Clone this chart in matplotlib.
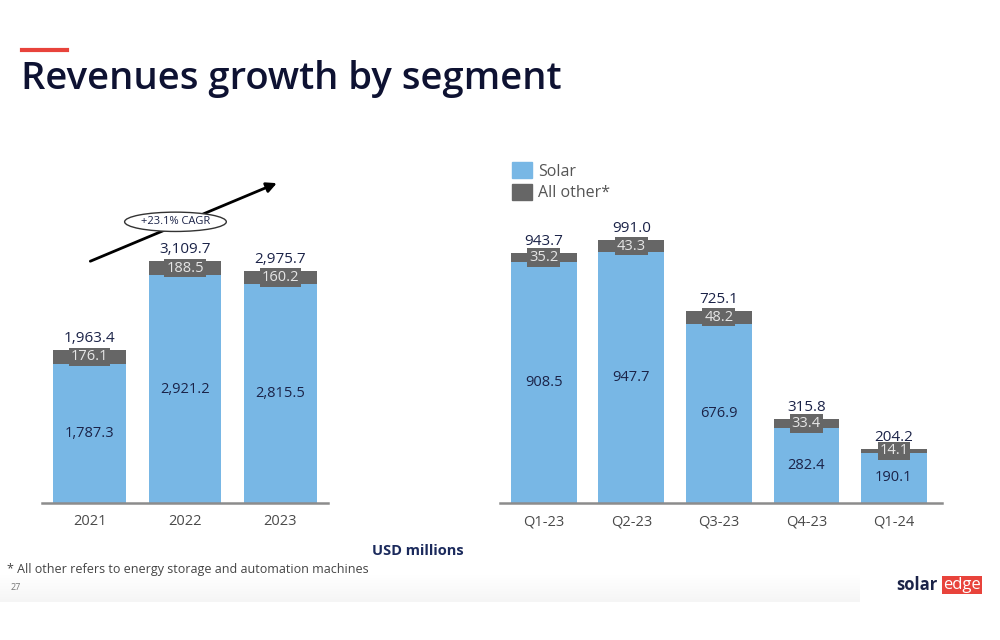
import matplotlib.pyplot as plt
import matplotlib.patches as mpatches
import numpy as np

# ---- data ----
years = ["2021", "2022", "2023"]
year_solar = [1787.3, 2921.2, 2815.5]
year_other = [176.1, 188.5, 160.2]
year_total = [1963.4, 3109.7, 2975.7]

quarters = ["Q1-23", "Q2-23", "Q3-23", "Q4-23", "Q1-24"]
q_solar = [908.5, 947.7, 676.9, 282.4, 190.1]
q_other = [35.2, 43.3, 48.2, 33.4, 14.1]
q_total = [943.7, 991.0, 725.1, 315.8, 204.2]

cagr_label = "+23.1% CAGR"

BLUE = "#78B7E5"
GRAY = "#666666"
NAVY = "#1B2348"
TICK = "#4A4A4A"

plt.rcParams['font.family'] = ['Open Sans', 'DejaVu Sans']

fig = plt.figure(figsize=(10, 6.4), dpi=100)
fig.patch.set_facecolor("white")


def fmt(v):
    return f"{v:,.1f}"


def draw_stack(ax, cats, solar, other, total, width):
    x = np.arange(len(cats))
    ax.bar(x, solar, width, color=BLUE, zorder=2)
    ax.bar(x, other, width, bottom=solar, color=GRAY, zorder=2)
    for i in x:
        ax.text(i, solar[i] / 2, fmt(solar[i]), ha="center", va="center",
                fontsize=10.5, color=NAVY, zorder=4)
        ax.text(i, solar[i] + other[i] / 2, fmt(other[i]), ha="center", va="center",
                fontsize=10.5, color="#E6E6E6", zorder=4,
                bbox=dict(boxstyle="square,pad=0.12", fc=GRAY, ec="none"))
        ax.annotate(fmt(total[i]), (i, total[i]), xytext=(0, 3), textcoords="offset points",
                    ha="center", va="bottom", fontsize=11, color=NAVY, zorder=4)
    ax.set_xticks(x)
    ax.set_xticklabels(cats, fontsize=10.5, color=TICK)
    ax.tick_params(axis="x", length=0, pad=8)
    ax.set_yticks([])
    for s in ["top", "right", "left"]:
        ax.spines[s].set_visible(False)
    ax.spines["bottom"].set_color("#8C8C8C")
    ax.spines["bottom"].set_linewidth(1.8)
    ax.set_facecolor("none")


# left: yearly
ax1 = fig.add_axes([0.042, 1 - 503 / 640, 0.286, (503 - 170) / 640])
draw_stack(ax1, years, year_solar, year_other, year_total, 0.76)
ax1.set_xlim(-0.5, 2.5)
ax1.set_ylim(0, 4275)

# growth arrow + CAGR bubble
ax1.annotate("", xy=(1.99, 4120), xytext=(-0.02, 3090),
             arrowprops=dict(arrowstyle="-|>,head_length=0.6,head_width=0.3",
                             color="black", lw=2), annotation_clip=False)
ax1.text(0.9, 3610, cagr_label, ha="center", va="center", fontsize=8, color=NAVY,
         bbox=dict(boxstyle="ellipse,pad=0.12", fc="white", ec="#333333", lw=1),
         zorder=5)

# right: quarterly
ax2 = fig.add_axes([0.500, 1 - 503 / 640, 0.442, (503 - 150) / 640])
draw_stack(ax2, quarters, q_solar, q_other, q_total, 0.75)
ax2.set_xlim(-0.5, 4.55)
ax2.set_ylim(0, 1332)

handles = [mpatches.Patch(color=BLUE, label="Solar"),
           mpatches.Patch(color=GRAY, label="All other*")]
fig.legend(handles=handles, loc="upper left", bbox_to_anchor=(0.512, 1 - 162 / 640),
           frameon=False, fontsize=11.5, handlelength=1.25, handleheight=1.2,
           handletextpad=0.4, labelspacing=0.25, borderpad=0, borderaxespad=0,
           labelcolor="#555555")

# title and decorations
fig.add_artist(plt.Line2D([0.022, 0.067], [1 - 50 / 640, 1 - 50 / 640],
                          color="#E8433B", lw=3, transform=fig.transFigure))
fig.text(0.021, 1 - 79 / 640, "Revenues growth by segment", fontsize=27.5,
         fontweight="semibold", color="#0E1232", va="center", ha="left")

fig.text(0.418, 1 - 551 / 640, "USD millions", fontsize=10.5, fontweight="bold",
         color="#1B2A5C", ha="center", va="center")
fig.text(0.007, 1 - 569 / 640, "* All other refers to energy storage and automation machines",
         fontsize=9, color="#444444", ha="left", va="center")
fig.text(0.011, 1 - 587 / 640, "27", fontsize=6.5, color="#777777", ha="left", va="center")

# faint footer shading
gax = fig.add_axes([0, 1 - 602 / 640, 0.86, 28 / 640])
grad = np.linspace(0, 1, 50).reshape(-1, 1)
gax.imshow(grad, aspect="auto", cmap="Greys", vmin=0, vmax=12, extent=[0, 1, 0, 1])
gax.axis("off")

# logo
fig.text(0.896, 1 - 585 / 640, "solar", fontsize=12, fontweight="bold", color=NAVY,
         ha="left", va="center")
fig.text(0.943, 1 - 585 / 640, "edge", fontsize=12, color="white", ha="left", va="center",
         bbox=dict(boxstyle="square,pad=0.08", fc="#E8433B", ec="none"))

fig.savefig("out.png", dpi=100)
